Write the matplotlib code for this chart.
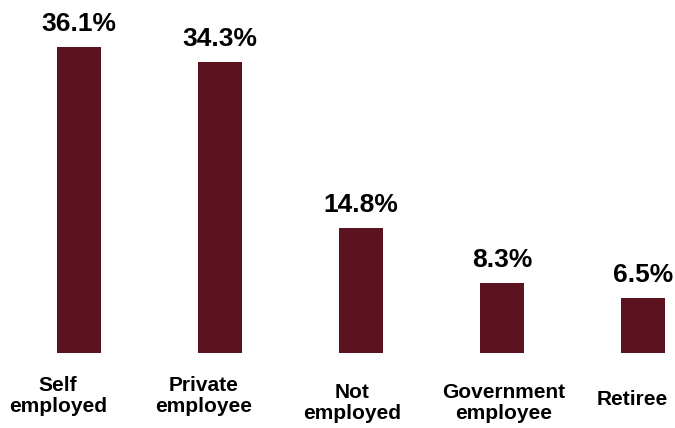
import matplotlib
matplotlib.use('Agg')
from matplotlib import pyplot as plt

categories = ['Self\nemployed', 'Private\nemployee', 'Not\nemployed', 'Government\nemployee', 'Retiree']
shares = [36.1, 34.3, 14.8, 8.3, 6.5]
share_labels = ['36.1%', '34.3%', '14.8%', '8.3%', '6.5%']

plt.rcParams['font.family'] = ['Liberation Sans', 'DejaVu Sans']
plt.rcParams['font.weight'] = 'bold'

fig = plt.figure(figsize=(6.75, 4.28), dpi=100)
ax = fig.add_axes([0, 75 / 428, 1, 339 / 428])

x = list(range(len(categories)))
bars = ax.bar(x, shares, width=0.312, color='#5B1320')

for b, lab in zip(bars, share_labels):
    ax.annotate(lab, (b.get_x() + b.get_width() / 2, b.get_height()),
                xytext=(0, 11.5), textcoords='offset points',
                ha='center', va='baseline', fontsize=19, fontweight='bold')

# category names sit under the bars, nudged a little (pixels)
nudge = [(-21, -23), (-16, -23), (-9, -30), (2, -30), (-11, -37)]
for xi, name, (dx, dy) in zip(x, categories, nudge):
    ax.annotate(name, (xi, 0), xytext=(dx * 0.72, dy * 0.72),
                textcoords='offset points', ha='center', va='top',
                multialignment='center', fontsize=15, fontweight='bold',
                linespacing=1.15, annotation_clip=False)

ax.set_xlim(-79 / 141, (675 - 79) / 141)
ax.set_ylim(0, 339 / 8.476)
ax.set_xticks([])
ax.set_yticks([])
for s in ax.spines.values():
    s.set_visible(False)

fig.savefig('out.png', dpi=100)
